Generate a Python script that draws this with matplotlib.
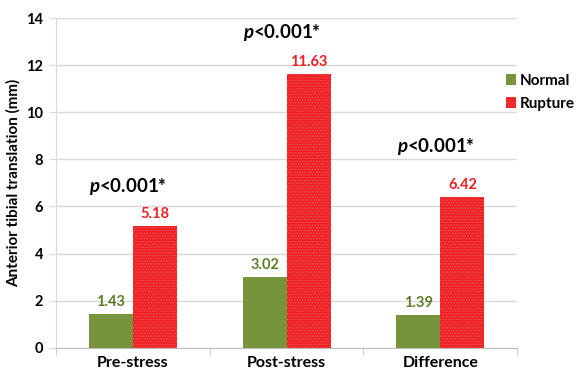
import numpy as np
import matplotlib.pyplot as plt

# data
categories = ["Pre-stress", "Post-stress", "Difference"]
normal = [1.43, 3.02, 1.39]
rupture = [5.18, 11.63, 6.42]
p_labels = ["p<0.001*", "p<0.001*", "p<0.001*"]
p_heights = [6.85, 13.4, 8.55]

plt.rcParams['font.family'] = ['Lato', 'DejaVu Sans']
plt.rcParams['font.weight'] = 'bold'
plt.rcParams['mathtext.fontset'] = 'custom'
plt.rcParams['mathtext.it'] = 'Lato:bold:italic'
plt.rcParams['mathtext.rm'] = 'Lato:bold'
plt.rcParams['hatch.linewidth'] = 0.6

green = '#77933C'
red = '#EE2024'

fig = plt.figure(figsize=(5.76, 3.76), dpi=100)
ax = fig.add_axes([0.097, 0.075, 0.801, 0.877])

x = np.arange(len(categories))
w = 0.286
ax.bar(x - w / 2, normal, w, color=green, label='Normal', zorder=3)
ax.bar(x + w / 2, rupture, w, color=red, label='Rupture', zorder=3,
       hatch='......', edgecolor='#F35555', linewidth=0)

for xi, v in zip(x, normal):
    ax.text(xi - w / 2, v + 0.2, f"{v:.2f}", ha='center', va='bottom',
            color='#5E7B2C', fontsize=10.5, fontweight='bold')
for xi, v in zip(x, rupture):
    ax.text(xi + w / 2, v + 0.2, f"{v:.2f}", ha='center', va='bottom',
            color='#EE2024', fontsize=10.5, fontweight='bold')

for xi, t, h in zip(x, p_labels, p_heights):
    ax.text(xi - 0.03, h, r"$\mathit{p}$" + t[1:], ha='center', va='center',
            fontsize=13.5, fontweight='bold', color='black')

ax.set_xlim(-0.5, 2.5)
ax.set_ylim(0, 14)
ax.set_yticks(range(0, 15, 2))
ax.set_xticks(x)
ax.set_xticklabels(categories, fontsize=11.5, fontweight='bold')
ax.set_xticks([-0.5, 0.5, 1.5, 2.5], minor=True)
ax.tick_params(axis='x', which='major', length=0, pad=6)
ax.tick_params(axis='x', which='minor', length=5, color='#BFBFBF')
ax.tick_params(axis='y', length=5, color='#D9D9D9', labelsize=10.5, pad=4)
ax.set_ylabel("Anterior tibial translation (mm)", fontsize=11, fontweight='bold')

ax.grid(axis='y', color='#D9D9D9', linewidth=1, zorder=0)
for s in ['top', 'right']:
    ax.spines[s].set_visible(False)
ax.spines['left'].set_color('#D9D9D9')
ax.spines['bottom'].set_color('#BFBFBF')

ax.legend(loc='upper left', bbox_to_anchor=(0.975, 0.83), frameon=False,
          fontsize=11, handlelength=0.7, handleheight=0.7, handletextpad=0.25,
          labelspacing=0.55, borderpad=0, borderaxespad=0)

plt.savefig("out.png", dpi=100)
